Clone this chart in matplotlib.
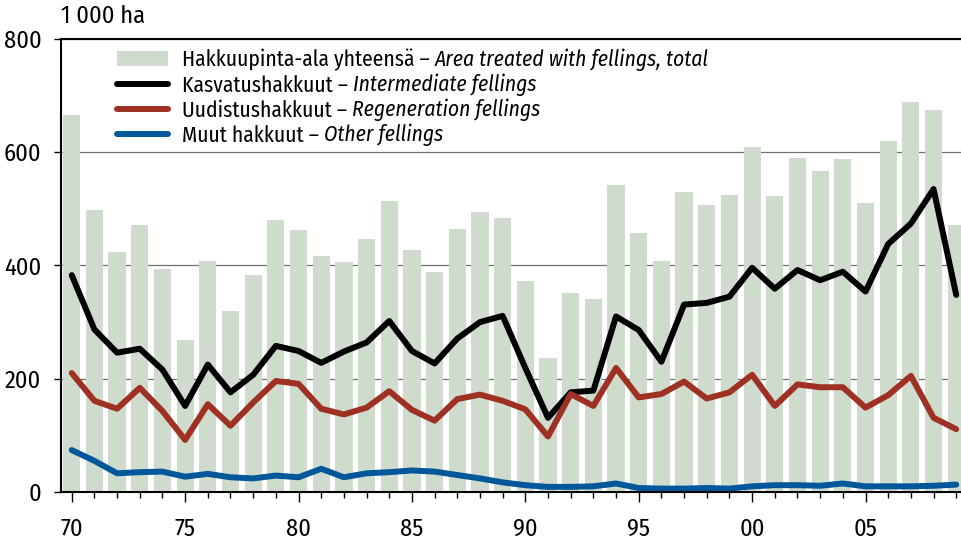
import matplotlib
matplotlib.use("Agg")
import matplotlib.pyplot as plt
from matplotlib.ticker import MultipleLocator, FixedLocator
from matplotlib.patches import Patch
from matplotlib.lines import Line2D

plt.rcParams['font.family'] = ['Fira Sans Condensed', 'DejaVu Sans']

years = list(range(1970, 2010))
total = [666, 498, 424, 472, 393, 269, 408, 319, 384, 481,
         463, 416, 407, 446, 514, 428, 389, 465, 494, 483,
         373, 237, 352, 340, 543, 457, 408, 529, 506, 525,
         610, 523, 590, 567, 588, 511, 619, 688, 674, 471]
intermediate = [383, 287, 246, 253, 216, 152, 225, 176, 207, 258,
                249, 228, 248, 264, 302, 249, 227, 271, 300, 311,
                219, 131, 176, 179, 310, 286, 230, 331, 334, 345,
                396, 359, 392, 374, 389, 354, 438, 474, 535, 348]
regeneration = [210, 161, 147, 184, 143, 92, 155, 117, 158, 196,
                191, 147, 137, 149, 178, 145, 126, 164, 172, 161,
                146, 98, 173, 152, 219, 167, 173, 195, 165, 176,
                207, 152, 190, 185, 185, 149, 171, 205, 131, 111]
other = [74, 55, 33, 35, 36, 27, 32, 26, 24, 29,
         26, 41, 26, 33, 35, 38, 36, 30, 24, 17,
         12, 9, 9, 10, 15, 7, 6, 6, 7, 6,
         10, 12, 12, 11, 15, 10, 10, 10, 11, 13]

major_years = [1970, 1975, 1980, 1985, 1990, 1995, 2000, 2005]
major_labels = ["70", "75", "80", "85", "90", "95", "00", "05"]
y_ticks = [0, 200, 400, 600, 800]

legend_regular = ["Hakkuupinta-ala yhteensä – ", "Kasvatushakkuut – ",
                  "Uudistushakkuut – ", "Muut hakkuut – "]
legend_italic = ["Area treated with fellings, total", "Intermediate fellings",
                 "Regeneration fellings", "Other fellings"]

bar_color = "#cfdccd"
c_black = "#000000"
c_red = "#9e3124"
c_blue = "#00589b"

fig = plt.figure(figsize=(9.61, 5.40), dpi=100)
ax = fig.add_axes([0.0632, 0.0889, 0.9368, 0.8389])

ax.bar(years, total, width=0.76, color=bar_color, zorder=2)
lw = 4.3
kw = dict(solid_joinstyle='round', solid_capstyle='round', zorder=3)
ax.plot(years, intermediate, color=c_black, lw=lw, **kw)
ax.plot(years, regeneration, color=c_red, lw=lw, **kw)
ax.plot(years, other, color=c_blue, lw=lw, **kw)

ax.set_xlim(1969.515, 2009.21)
ax.set_ylim(0, 800)
ax.set_yticks(y_ticks)
ax.yaxis.grid(True, color="#707070", lw=0.9, zorder=1)
ax.set_axisbelow(True)

ax.xaxis.set_major_locator(FixedLocator(major_years))
ax.set_xticklabels(major_labels)
ax.xaxis.set_minor_locator(MultipleLocator(1))

ax.spines['right'].set_visible(False)
for s in ['left', 'top', 'bottom']:
    ax.spines[s].set_linewidth(1.5)
    ax.spines[s].set_zorder(4)

fs = 17.5
ax.tick_params(axis='y', direction='out', length=5, width=1.0, pad=9, labelsize=fs)
ax.tick_params(axis='x', which='major', direction='out', length=7, width=1.0, pad=11.5, labelsize=fs)
ax.tick_params(axis='x', which='minor', direction='out', length=4.5, width=1.0)

fig.text(0.0632, 0.948, "1 000 ha", fontsize=fs, ha='left', va='bottom')

handles = [Patch(facecolor=bar_color, edgecolor='none'),
           Line2D([], [], color=c_black, lw=lw, solid_capstyle='round'),
           Line2D([], [], color=c_red, lw=lw, solid_capstyle='round'),
           Line2D([], [], color=c_blue, lw=lw, solid_capstyle='round')]
lfs = 15.5
leg = ax.legend(handles, legend_regular, loc='upper left',
                bbox_to_anchor=(0.062, 0.978), frameon=False, fontsize=lfs,
                borderpad=0, borderaxespad=0, labelspacing=0.17,
                handlelength=2.4, handletextpad=0.65, handleheight=0.7)
leg.set_zorder(5)
fig.canvas.draw()
for t, it in zip(leg.get_texts(), legend_italic):
    ax.annotate(it, xy=(1, 0), xycoords=t, ha='left', va='bottom',
                fontsize=lfs, fontstyle='italic', zorder=6)

fig.savefig("out.png", dpi=100)
